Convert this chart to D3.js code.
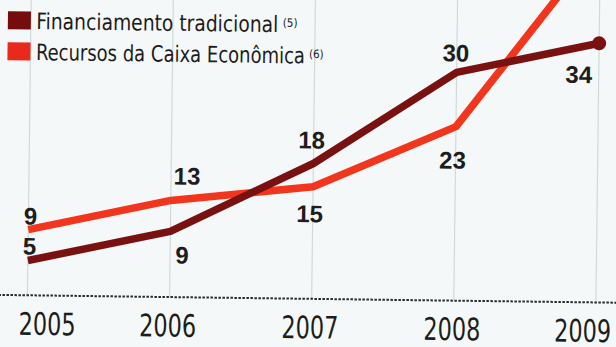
<!DOCTYPE html>
<html>
<head>
<meta charset="utf-8">
<script src="https://cdn.jsdelivr.net/npm/d3@7"></script>
<style>
  html, body { margin: 0; padding: 0; background: #f5f8f8; }
  svg { display: block; }
</style>
</head>
<body>
<svg id="chart" width="616" height="347"></svg>
<script>
// Categories and series (R$ bilhões)
const years = ["2005", "2006", "2007", "2008", "2009"];
const financiamentoTradicional = [5, 9, 18, 30, 34];
const recursosCaixa = [9, 13, 15, 23, 47];
const seriesNames = ["Financiamento tradicional", "Recursos da Caixa Econômica"];
const seriesNotes = ["(5)", "(6)"];
// Which points carry a printed value (the last Caixa point runs off the top)
const showFinanciamento = [true, true, true, true, true];
const showCaixa = [true, true, true, true, false];

// Layout: label offsets from each point (dx, dy to text baseline)
const finOffsets = [[1.5, -6], [12, 32], [-2, -15], [-1, -11], [-20, 40]];
const caixaOffsets = [[2, -5], [16, -16], [-3, 35.5], [-3, 42], [0, 0]];

const W = 616, H = 347;
const colDark = "#7a1111";
const colRed = "#f2361e";
const colDarkKey = "#760d0d";
const colRedKey = "#e8291c";
const ink = "#1d1d1d";

const svg = d3.select("#chart");
svg.append("rect").attr("width", W).attr("height", H).attr("fill", "#f5f8f8");

// the printed page sits slightly askew
const g = svg.append("g").attr("transform", "rotate(0.72, 308, 173)");

const x = d3.scalePoint().domain(years).range([29, 597.5]).padding(0);
const y = d3.scaleLinear().domain([0, 40]).range([302.7, 302.7 - 7.737 * 40]);
const baseY = 298.8;

// vertical guides
g.append("g").selectAll("line").data(years).join("line")
  .attr("x1", d => x(d)).attr("x2", d => x(d))
  .attr("y1", -20).attr("y2", baseY)
  .attr("stroke", "#d3d8d8").attr("stroke-width", 1.2);

// dashed base line
g.append("line")
  .attr("x1", -12).attr("x2", W + 12)
  .attr("y1", baseY).attr("y2", baseY)
  .attr("stroke", "#2a2a2a").attr("stroke-width", 2)
  .attr("stroke-dasharray", "2.5,1.5");

// year axis
const axis = g.append("g")
  .attr("transform", `translate(0,${baseY})`)
  .call(d3.axisBottom(x).tickSize(0));
axis.select(".domain").remove();
axis.selectAll("text")
  .attr("y", 39.5).attr("dy", 0)
  .attr("fill", ink)
  .style("font-family", "'Liberation Sans Narrow', 'Arial Narrow', 'DejaVu Sans Condensed', sans-serif")
  .style("font-size", "31px")
  .attr("textLength", 57).attr("lengthAdjust", "spacingAndGlyphs")
  .attr("text-anchor", (d, i) => i === 0 ? "start" : (i === years.length - 1 ? "end" : "middle"))
  .attr("dx", (d, i) => i === 0 ? -9 : (i === years.length - 1 ? 15 : -2));

const line = d3.line().x(d => x(d.year)).y(d => y(d.v));
const caixaPts = years.map((yr, i) => ({ year: yr, v: recursosCaixa[i] }));
const finPts = years.map((yr, i) => ({ year: yr, v: financiamentoTradicional[i] }));

g.append("path").datum(caixaPts)
  .attr("d", line).attr("fill", "none")
  .attr("stroke", colRed).attr("stroke-width", 7.5)
  .attr("stroke-linejoin", "round");

g.append("path").datum(finPts)
  .attr("d", line).attr("fill", "none")
  .attr("stroke", colDark).attr("stroke-width", 7.5)
  .attr("stroke-linejoin", "round");

const last = finPts[finPts.length - 1];
g.append("circle")
  .attr("cx", x(last.year)).attr("cy", y(last.v)).attr("r", 7)
  .attr("fill", colDark);

// value labels
const valueFont = "'Liberation Sans', Arial, sans-serif";
function valueLabels(pts, show, offsets) {
  g.append("g").selectAll("text")
    .data(pts.map((p, i) => ({ ...p, i })).filter(p => show[p.i]))
    .join("text")
    .attr("x", d => x(d.year) + offsets[d.i][0])
    .attr("y", d => y(d.v) + offsets[d.i][1])
    .attr("text-anchor", "middle")
    .attr("fill", ink)
    .style("font-family", valueFont)
    .style("font-weight", "bold")
    .style("font-size", "24px")
    .text(d => d.v);
}
valueLabels(caixaPts, showCaixa, caixaOffsets);
valueLabels(finPts, showFinanciamento, finOffsets);

// legend
const legendFont = "'Liberation Sans Narrow', 'Arial Narrow', 'DejaVu Sans Condensed', sans-serif";
const keyColors = [colDarkKey, colRedKey];
const keyTextWidths = [242, 269];
const noteX = [281, 307.5];
const legend = g.append("g");
seriesNames.forEach((name, i) => {
  const top = 15 + i * 31;
  legend.append("rect")
    .attr("x", 6).attr("y", top).attr("width", 23).attr("height", 18)
    .attr("fill", keyColors[i]);
  legend.append("text")
    .attr("x", 34.5).attr("y", top + 17.5)
    .attr("fill", ink)
    .style("font-family", legendFont)
    .style("font-size", "22.5px")
    .attr("textLength", keyTextWidths[i]).attr("lengthAdjust", "spacingAndGlyphs")
    .text(name);
  legend.append("text")
    .attr("x", noteX[i]).attr("y", top + 12)
    .attr("fill", ink)
    .style("font-family", legendFont)
    .style("font-size", "11.5px")
    .text(seriesNotes[i]);
});
</script>
</body>
</html>
